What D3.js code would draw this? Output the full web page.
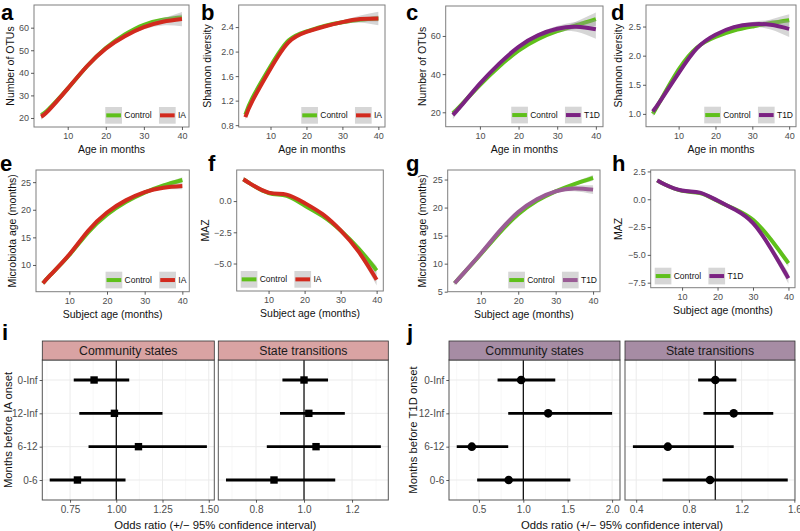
<!DOCTYPE html>
<html>
<head>
<meta charset="utf-8">
<script src="https://cdn.jsdelivr.net/npm/d3@7"></script>
<style>
  body { margin: 0; background: #fff; }
  svg { display: block; font-family: "Liberation Sans", Arial, Helvetica, sans-serif; }
</style>
</head>
<body>
<script>
// ---------- data ----------
var ages = [3, 5, 10, 15, 20, 25, 30, 35, 40];

// a: number of OTUs, IA cohort
var otuCtrlA = [21.3, 23.9, 33.0, 42.8, 51.0, 57.0, 61.3, 63.5, 64.5];
var otuIA    = [20.6, 23.4, 33.0, 42.8, 50.7, 56.2, 60.2, 62.6, 63.8];
var otuCtrlA_se = [1.0, 0.7, 0.4, 0.4, 0.4, 0.4, 0.5, 0.8, 1.4];
var otuIA_se    = [1.4, 0.9, 0.5, 0.5, 0.5, 0.6, 0.9, 1.6, 3.2];
// b: shannon, IA cohort
var shanCtrlB = [0.97, 1.25, 1.76, 2.18, 2.33, 2.42, 2.48, 2.52, 2.54];
var shanIA    = [0.93, 1.20, 1.72, 2.15, 2.32, 2.41, 2.48, 2.53, 2.54];
var shanCtrlB_se = [0.03, 0.02, 0.01, 0.01, 0.01, 0.01, 0.015, 0.03, 0.05];
var shanIA_se    = [0.05, 0.03, 0.02, 0.015, 0.015, 0.02, 0.03, 0.06, 0.11];
// c: number of OTUs, T1D cohort
var otuCtrlC = [19.5, 23.5, 34.3, 44.0, 52.3, 58.3, 62.5, 65.6, 68.8];
var otuT1D   = [18.6, 23.0, 35.0, 45.5, 54.3, 60.3, 63.8, 64.8, 63.5];
var otuCtrlC_se = [1.6, 1.0, 0.6, 0.6, 0.6, 0.7, 1.0, 2.0, 3.5];
var otuT1D_se   = [2.2, 1.4, 0.8, 0.8, 0.8, 1.0, 1.4, 2.6, 5.0];
// d: shannon, T1D cohort
var shanCtrlD = [1.00, 1.22, 1.76, 2.14, 2.32, 2.43, 2.50, 2.56, 2.61];
var shanT1D   = [1.04, 1.22, 1.70, 2.13, 2.36, 2.49, 2.54, 2.53, 2.46];
var shanCtrlD_se = [0.05, 0.03, 0.02, 0.02, 0.02, 0.02, 0.03, 0.06, 0.10];
var shanT1D_se   = [0.06, 0.04, 0.02, 0.02, 0.02, 0.03, 0.04, 0.08, 0.14];
// e: microbiota age, IA cohort
var mageCtrlE = [6.7, 8.2, 11.8, 15.9, 19.1, 21.4, 23.1, 24.4, 25.4];
var mageIA    = [6.7, 8.2, 11.9, 16.2, 19.5, 21.7, 23.2, 24.0, 24.3];
var mageCtrlE_se = [0.3, 0.2, 0.15, 0.15, 0.15, 0.15, 0.2, 0.3, 0.5];
var mageIA_se    = [0.4, 0.25, 0.15, 0.15, 0.15, 0.2, 0.25, 0.35, 0.6];
// f: MAZ, IA cohort
var mazCtrlF = [1.75, 1.38, 0.65, 0.42, -0.35, -1.20, -2.35, -3.80, -5.55];
var mazIA    = [1.75, 1.38, 0.68, 0.52, -0.15, -1.05, -2.35, -4.05, -6.30];
var mazCtrlF_se = [0.15, 0.1, 0.08, 0.08, 0.08, 0.1, 0.12, 0.2, 0.35];
var mazIA_se    = [0.2, 0.12, 0.1, 0.1, 0.1, 0.12, 0.15, 0.25, 0.45];
// g: microbiota age, T1D cohort
var mageCtrlG = [6.5, 8.0, 11.7, 15.5, 18.8, 21.2, 22.9, 24.2, 25.3];
var mageT1D   = [6.5, 8.0, 11.8, 15.8, 19.2, 21.5, 22.9, 23.4, 23.2];
var mageCtrlG_se = [0.3, 0.2, 0.15, 0.15, 0.15, 0.15, 0.2, 0.3, 0.5];
var mageT1D_se   = [0.35, 0.25, 0.15, 0.15, 0.15, 0.2, 0.3, 0.5, 0.8];
// h: MAZ, T1D cohort
var mazCtrlH = [1.70, 1.35, 0.75, 0.55, -0.15, -0.90, -1.85, -3.60, -5.75];
var mazT1D   = [1.70, 1.35, 0.78, 0.60, -0.12, -0.95, -2.15, -4.40, -7.10];
var mazCtrlH_se = [0.15, 0.1, 0.08, 0.08, 0.08, 0.1, 0.12, 0.2, 0.35];
var mazT1D_se   = [0.2, 0.12, 0.1, 0.1, 0.1, 0.12, 0.18, 0.3, 0.5];

// i / j: odds ratios
var windows = ["0-Inf", "12-Inf", "6-12", "0-6"];
var iaStatesOR = [0.88, 0.99, 1.12, 0.79];
var iaStatesLo = [0.77, 0.80, 0.85, 0.64];
var iaStatesHi = [1.07, 1.25, 1.49, 1.05];
var iaTransOR  = [1.00, 1.02, 1.05, 0.875];
var iaTransLo  = [0.91, 0.90, 0.845, 0.675];
var iaTransHi  = [1.10, 1.17, 1.32, 1.13];
var t1dStatesOR = [0.975, 1.28, 0.42, 0.835];
var t1dStatesLo = [0.71, 0.83, 0.25, 0.48];
var t1dStatesHi = [1.36, 2.00, 0.83, 1.53];
var t1dTransOR  = [1.00, 1.14, 0.64, 0.96];
var t1dTransLo  = [0.87, 0.91, 0.375, 0.60];
var t1dTransHi  = [1.16, 1.44, 1.14, 1.55];

// ---------- drawing ----------
var W = 800, H = 531;
var svg = d3.select('body').append('svg').attr('width', W).attr('height', H);
svg.append('rect').attr('width', W).attr('height', H).attr('fill', '#fff');

var green = '#5fc01b', red = '#d22a1e', purple = '#7b2282', mauve = '#9a5c95';
var minus = function(s) { return s.replace('-', '\u2212'); };

function styleAxis(ax, size) {
  ax.select('.domain').remove();
  ax.selectAll('line').attr('stroke', '#333').attr('stroke-width', 0.8);
  ax.selectAll('text').attr('fill', '#4d4d4d').attr('font-size', size);
}

function smoothPanel(p) {
  var b = p.box;
  var x = d3.scaleLinear().domain([1.15, 41.85]).range([b[0], b[1]]);
  var y = d3.scaleLinear().domain(p.ydom).range([b[3], b[2]]);
  var g = svg.append('g');
  var cid = 'clip' + p.letter;
  svg.append('clipPath').attr('id', cid).append('rect')
    .attr('x', b[0]).attr('y', b[2]).attr('width', b[1] - b[0]).attr('height', b[3] - b[2]);
  var inner = g.append('g').attr('clip-path', 'url(#' + cid + ')');

  p.series.forEach(function(s) {
    var pts = ages.map(function(a, i) { return {a: a, v: s.v[i], se: s.se[i]}; });
    var band = d3.area().curve(d3.curveNatural)
      .x(function(d) { return x(d.a); })
      .y0(function(d) { return y(d.v - d.se); })
      .y1(function(d) { return y(d.v + d.se); });
    inner.append('path').datum(pts).attr('d', band)
      .attr('fill', '#999').attr('fill-opacity', 0.4);
    var line = d3.line().curve(d3.curveNatural)
      .x(function(d) { return x(d.a); })
      .y(function(d) { return y(d.v); });
    inner.append('path').datum(pts).attr('d', line)
      .attr('fill', 'none').attr('stroke', s.color).attr('stroke-width', 4);
  });

  g.append('rect').attr('x', b[0]).attr('y', b[2])
    .attr('width', b[1] - b[0]).attr('height', b[3] - b[2])
    .attr('fill', 'none').attr('stroke', '#7f7f7f').attr('stroke-width', 1);

  var ax = g.append('g').attr('transform', 'translate(0,' + b[3] + ')')
    .call(d3.axisBottom(x).tickValues([10, 20, 30, 40]).tickSize(3).tickPadding(3));
  styleAxis(ax, 9);
  var ay = g.append('g').attr('transform', 'translate(' + b[0] + ',0)')
    .call(d3.axisLeft(y).tickValues(p.yticks).tickSize(3).tickPadding(2)
      .tickFormat(function(v) { return minus(d3.format(p.yfmt)(v)); }));
  styleAxis(ay, 9);

  g.append('text').attr('x', (b[0] + b[1]) / 2).attr('y', b[3] + 22)
    .attr('text-anchor', 'middle').attr('dominant-baseline', 'central')
    .attr('font-size', 10.5).attr('fill', '#111').text(p.xtitle);
  g.append('text').attr('transform', 'translate(' + p.ytitleX + ',' + (b[2] + b[3]) / 2 + ') rotate(-90)')
    .attr('text-anchor', 'middle').attr('dominant-baseline', 'central')
    .attr('font-size', 10.5).attr('fill', '#111').text(p.ytitle);
  g.append('text').attr('x', p.lpos[0]).attr('y', p.lpos[1])
    .attr('font-size', 22).attr('font-weight', 'bold').attr('fill', '#000').text(p.letter);

  // legend
  var lg = g.append('g');
  var items = p.series.map(function(s) {
    var t = lg.append('text').attr('font-size', 8.5).attr('fill', '#111')
      .attr('dominant-baseline', 'central').text(s.name);
    return {s: s, t: t, w: t.node().getComputedTextLength()};
  });
  var key = 16.7, ky = b[3] - 20;
  var total = key + 2.3 + items[0].w + 7.3 + key + 2.3 + items[1].w;
  var kx = p.legend === 'left' ? b[0] + 4 : b[1] - 3 - total;
  items.forEach(function(it) {
    lg.append('rect').attr('x', kx).attr('y', ky).attr('width', key).attr('height', key)
      .attr('fill', '#d6d6d6');
    lg.append('line').attr('x1', kx + 1).attr('x2', kx + key - 1)
      .attr('y1', ky + key / 2).attr('y2', ky + key / 2)
      .attr('stroke', it.s.color).attr('stroke-width', 4);
    it.t.attr('x', kx + key + 2.3).attr('y', ky + key / 2);
    kx += key + 2.3 + it.w + 7.3;
  });
}

var smoothPanels = [
  {letter: 'a', lpos: [1, 20], box: [34, 189, 5, 127], ydom: [16.0, 70.05], yticks: [20, 30, 40, 50, 60], yfmt: 'd',
   ytitle: 'Number of OTUs', ytitleX: 10, xtitle: 'Age in months', legend: 'right',
   series: [{name: 'Control', v: otuCtrlA, se: otuCtrlA_se, color: green}, {name: 'IA', v: otuIA, se: otuIA_se, color: red}]},
  {letter: 'b', lpos: [201, 20], box: [238.7, 385, 5, 127], ydom: [0.77, 2.76], yticks: [0.8, 1.2, 1.6, 2.0, 2.4], yfmt: '.1f',
   ytitle: 'Shannon diversity', ytitleX: 206.5, xtitle: 'Age in months', legend: 'right',
   series: [{name: 'Control', v: shanCtrlB, se: shanCtrlB_se, color: green}, {name: 'IA', v: shanIA, se: shanIA_se, color: red}]},
  {letter: 'c', lpos: [406, 20], box: [445.7, 603, 6, 126.7], ydom: [12.45, 75.7], yticks: [20, 40, 60], yfmt: 'd',
   ytitle: 'Number of OTUs', ytitleX: 421.5, xtitle: 'Age in months', legend: 'right',
   series: [{name: 'Control', v: otuCtrlC, se: otuCtrlC_se, color: green}, {name: 'T1D', v: otuT1D, se: otuT1D_se, color: purple}]},
  {letter: 'd', lpos: [611, 20], box: [646, 796, 5, 126.7], ydom: [0.78, 2.87], yticks: [1.0, 1.5, 2.0, 2.5], yfmt: '.1f',
   ytitle: 'Shannon diversity', ytitleX: 618, xtitle: 'Age in months', legend: 'right',
   series: [{name: 'Control', v: shanCtrlD, se: shanCtrlD_se, color: green}, {name: 'T1D', v: shanT1D, se: shanT1D_se, color: purple}]},
  {letter: 'e', lpos: [0, 171], box: [36, 189.3, 170, 291.7], ydom: [5.16, 27.2], yticks: [10, 15, 20, 25], yfmt: 'd',
   ytitle: 'Microbiota age (months)', ytitleX: 11.5, xtitle: 'Subject age (months)', legend: 'right',
   series: [{name: 'Control', v: mageCtrlE, se: mageCtrlE_se, color: green}, {name: 'IA', v: mageIA, se: mageIA_se, color: red}]},
  {letter: 'f', lpos: [208, 171], box: [236.7, 383.3, 170, 291], ydom: [-7.2, 2.49], yticks: [-5, -2.5, 0], yfmt: '.1f',
   ytitle: 'MAZ', ytitleX: 205, xtitle: 'Subject age (months)', legend: 'left',
   series: [{name: 'Control', v: mazCtrlF, se: mazCtrlF_se, color: green}, {name: 'IA', v: mazIA, se: mazIA_se, color: red}]},
  {letter: 'g', lpos: [406, 171], box: [447.7, 600, 170, 291.7], ydom: [5.0, 26.7], yticks: [5, 10, 15, 20, 25], yfmt: 'd',
   ytitle: 'Microbiota age (months)', ytitleX: 421.5, xtitle: 'Subject age (months)', legend: 'right',
   series: [{name: 'Control', v: mageCtrlG, se: mageCtrlG_se, color: green}, {name: 'T1D', v: mageT1D, se: mageT1D_se, color: mauve}]},
  {letter: 'h', lpos: [612, 171], box: [650.7, 795, 170, 287.7], ydom: [-7.95, 2.63], yticks: [-7.5, -5, -2.5, 0, 2.5], yfmt: '.1f',
   ytitle: 'MAZ', ytitleX: 618, xtitle: 'Subject age (months)', legend: 'left',
   series: [{name: 'Control', v: mazCtrlH, se: mazCtrlH_se, color: green}, {name: 'T1D', v: mazT1D, se: mazT1D_se, color: purple}]}
];
smoothPanels.forEach(smoothPanel);

// ---------- forest plots ----------
function forestPanel(p) {
  var top = 360, bottom = 500, stripTop = 341;
  var y = d3.scalePoint().domain(windows).range([top, bottom]).padding(0.6);
  var g = svg.append('g');

  p.facets.forEach(function(f, k) {
    var x = d3.scaleLinear().domain(f.dom).range([f.x0, f.x1]);
    var rows = windows.map(function(w, i) { return {w: w, or: f.or[i], lo: f.lo[i], hi: f.hi[i]}; });
    g.selectAll(null).data(f.minor).enter().append('line')
      .attr('x1', function(d) { return x(d); }).attr('x2', function(d) { return x(d); })
      .attr('y1', top).attr('y2', bottom).attr('stroke', '#f2f2f2').attr('stroke-width', 0.6);
    g.selectAll(null).data(f.ticks).enter().append('line')
      .attr('x1', function(d) { return x(d); }).attr('x2', function(d) { return x(d); })
      .attr('y1', top).attr('y2', bottom).attr('stroke', '#ebebeb').attr('stroke-width', 1);
    g.selectAll(null).data(windows).enter().append('line')
      .attr('x1', f.x0).attr('x2', f.x1)
      .attr('y1', function(d) { return y(d); }).attr('y2', function(d) { return y(d); })
      .attr('stroke', '#ebebeb').attr('stroke-width', 1);
    g.append('line').attr('x1', x(1)).attr('x2', x(1)).attr('y1', top).attr('y2', bottom)
      .attr('stroke', '#000').attr('stroke-width', 1.2);

    g.selectAll(null).data(rows).enter().append('line')
      .attr('x1', function(d) { return x(d.lo); }).attr('x2', function(d) { return x(d.hi); })
      .attr('y1', function(d) { return y(d.w); }).attr('y2', function(d) { return y(d.w); })
      .attr('stroke', '#000').attr('stroke-width', 2.8);
    if (p.shape === 'square') {
      g.selectAll(null).data(rows).enter().append('rect')
        .attr('x', function(d) { return x(d.or) - 3.7; }).attr('y', function(d) { return y(d.w) - 3.7; })
        .attr('width', 7.4).attr('height', 7.4).attr('fill', '#000');
    } else {
      g.selectAll(null).data(rows).enter().append('circle')
        .attr('cx', function(d) { return x(d.or); }).attr('cy', function(d) { return y(d.w); })
        .attr('r', 4.3).attr('fill', '#000');
    }

    g.append('rect').attr('x', f.x0).attr('y', top).attr('width', f.x1 - f.x0).attr('height', bottom - top)
      .attr('fill', 'none').attr('stroke', '#555').attr('stroke-width', 1);
    g.append('rect').attr('x', f.x0).attr('y', stripTop).attr('width', f.x1 - f.x0).attr('height', top - stripTop)
      .attr('fill', p.strip).attr('stroke', '#333').attr('stroke-width', 0.8);
    g.append('text').attr('x', (f.x0 + f.x1) / 2).attr('y', (stripTop + top) / 2 + 0.5)
      .attr('text-anchor', 'middle').attr('dominant-baseline', 'central')
      .attr('font-size', 12.3).attr('fill', '#1a1a1a').text(f.title);

    var ax = g.append('g').attr('transform', 'translate(0,' + bottom + ')')
      .call(d3.axisBottom(x).tickValues(f.ticks).tickSize(2.7).tickPadding(3).tickFormat(d3.format(f.fmt)));
    styleAxis(ax, 10);

    if (k === 0) {
      var ay = g.append('g').attr('transform', 'translate(' + f.x0 + ',0)')
        .call(d3.axisLeft(y).tickSize(2.7).tickPadding(2));
      styleAxis(ay, 10);
    }
  });

  var f0 = p.facets[0], f1 = p.facets[1];
  g.append('text').attr('x', (f0.x0 + f1.x1) / 2).attr('y', 525)
    .attr('text-anchor', 'middle').attr('dominant-baseline', 'central')
    .attr('font-size', 11.3).attr('fill', '#111').text('Odds ratio (+/\u2212 95% confidence interval)');
  g.append('text').attr('transform', 'translate(' + p.ytitleX + ',' + (top + bottom) / 2 + ') rotate(-90)')
    .attr('text-anchor', 'middle').attr('dominant-baseline', 'central')
    .attr('font-size', 11.3).attr('fill', '#111').text(p.ytitle);
  g.append('text').attr('x', p.lpos[0]).attr('y', p.lpos[1])
    .attr('font-size', 22).attr('font-weight', 'bold').attr('fill', '#000').text(p.letter);
}

forestPanel({
  letter: 'i', lpos: [2, 340], shape: 'square', strip: '#d9a3a3',
  ytitle: 'Months before IA onset', ytitleX: 8,
  facets: [
    {title: 'Community states', x0: 42.3, x1: 214.3, dom: [0.60, 1.53], ticks: [0.75, 1.0, 1.25, 1.5],
     minor: [0.625, 0.875, 1.125, 1.375], fmt: '.2f', or: iaStatesOR, lo: iaStatesLo, hi: iaStatesHi},
    {title: 'State transitions', x0: 218.3, x1: 388.3, dom: [0.643, 1.351], ticks: [0.8, 1.0, 1.2],
     minor: [0.7, 0.9, 1.1, 1.3], fmt: '.1f', or: iaTransOR, lo: iaTransLo, hi: iaTransHi}
  ]
});
forestPanel({
  letter: 'j', lpos: [407, 340], shape: 'circle', strip: '#a68ca4',
  ytitle: 'Months before T1D onset', ytitleX: 413,
  facets: [
    {title: 'Community states', x0: 449, x1: 620, dom: [0.163, 2.089], ticks: [0.5, 1.0, 1.5, 2.0],
     minor: [0.25, 0.75, 1.25, 1.75], fmt: '.1f', or: t1dStatesOR, lo: t1dStatesLo, hi: t1dStatesHi},
    {title: 'State transitions', x0: 625, x1: 795, dom: [0.315, 1.605], ticks: [0.4, 0.8, 1.2, 1.6],
     minor: [0.6, 1.0, 1.4], fmt: '.1f', or: t1dTransOR, lo: t1dTransLo, hi: t1dTransHi}
  ]
});
</script>
</body>
</html>
